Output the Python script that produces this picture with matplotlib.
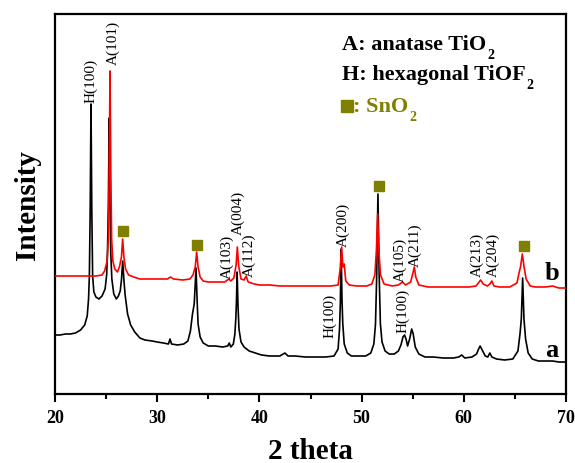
import matplotlib
matplotlib.use("Agg")
import matplotlib.pyplot as plt
from matplotlib.ticker import MultipleLocator

plt.rcParams['font.family'] = ['Liberation Serif', 'DejaVu Serif']

# ---- data: sample a (black) ----
two_theta_a = [20.0, 20.5, 21.0, 21.5, 22.0, 22.5, 22.9, 23.15, 23.28, 23.36, 23.44, 23.52, 23.60, 23.68,
               23.8, 24.0, 24.3, 24.6, 24.9, 25.06, 25.14, 25.22, 25.30, 25.38, 25.46, 25.56, 25.75,
               26.0, 26.2, 26.38, 26.50, 26.62, 26.74, 26.86, 27.1, 27.4, 27.8, 28.3, 28.8, 29.5, 30.0,
               30.6, 31.1, 31.25, 31.4, 32.0, 32.6, 33.0, 33.25, 33.45, 33.62, 33.72, 33.80, 33.90,
               34.0, 34.2, 34.5, 35.0, 35.7, 36.4, 36.9, 37.05, 37.2, 37.45, 37.6, 37.7, 37.76, 37.82,
               37.9, 38.0, 38.2, 38.5, 39.0, 39.6, 40.2, 41.0, 42.0, 42.5, 42.8, 43.5, 44.5, 45.5,
               46.5, 47.3, 47.7, 47.84, 47.92, 48.0, 48.08, 48.16, 48.3, 48.6, 49.0, 49.7, 50.4, 50.9,
               51.2, 51.36, 51.48, 51.6, 51.72, 51.84, 52.0, 52.3, 52.7, 53.2, 53.6, 53.85, 54.05,
               54.2, 54.35, 54.5, 54.7, 54.9, 55.05, 55.25, 55.6, 56.2, 57.0, 58.0, 59.0, 59.5, 59.8,
               60.1, 60.8, 61.25, 61.45, 61.6, 61.8, 62.1, 62.35, 62.55, 62.75, 63.2, 64.0, 64.8,
               65.3, 65.5, 65.63, 65.76, 65.89, 66.05, 66.3, 66.7, 67.3, 68.0, 68.7, 69.3, 70.0]
intensity_a = [59, 59, 60, 60, 61, 64, 69, 78, 95, 118, 183, 290, 183, 118,
               102, 97, 95, 98, 105, 120, 145, 190, 276, 190, 140, 115, 100,
               95, 98, 103, 114, 133, 114, 99, 80, 69, 62, 56, 54, 53, 52,
               51, 50, 55, 50, 49, 50, 53, 63, 80, 90, 110, 126, 95,
               70, 57, 51, 48, 48, 47, 48, 51, 47, 50, 60, 77, 95, 122,
               90, 65, 52, 47, 43, 41, 39, 38, 38, 41, 38, 38, 37, 37,
               37, 38, 45, 65, 91, 145, 95, 70, 50, 41, 38, 38, 38, 41,
               50, 70, 119, 200, 119, 70, 52, 43, 40, 40, 43, 49, 57,
               59, 55, 48, 55, 65, 60, 47, 40, 37, 37, 36, 36, 37, 39,
               36, 37, 40, 45, 48, 44, 38, 37, 41, 37, 35, 34, 35,
               43, 60, 75, 116, 75, 55, 41, 35, 33, 33, 33, 32, 32]

# ---- data: sample b (red) ----
two_theta_b = [20.0, 21.0, 22.0, 23.0, 24.0, 24.6, 24.85, 25.1, 25.22, 25.30, 25.38, 25.46, 25.54, 25.66,
               25.85, 26.1, 26.3, 26.5, 26.62, 26.74, 26.9, 27.2, 27.7, 28.3, 29.0, 30.0, 31.0, 31.3,
               31.6, 32.5, 33.2, 33.5, 33.72, 33.86, 34.0, 34.2, 34.5, 35.0, 35.9, 36.6, 37.0, 37.2,
               37.5, 37.72, 37.84, 37.96, 38.2, 38.5, 38.7, 38.9, 39.5, 40.0, 41.0, 42.0, 43.0, 44.0,
               45.0, 46.0, 47.0, 47.7, 47.9, 48.05, 48.17, 48.3, 48.45, 48.8, 49.5, 50.5, 51.0, 51.3,
               51.45, 51.57, 51.69, 51.85, 52.2, 53.0, 53.6, 54.0, 54.3, 54.8, 55.0, 55.16, 55.3, 55.6,
               56.5, 57.5, 58.5, 59.5, 60.5, 61.2, 61.5, 61.65, 61.9, 62.3, 62.55, 62.75, 62.95, 63.5,
               64.5, 65.2, 65.45, 65.55, 65.73, 65.9, 66.1, 66.5, 67.0, 68.0, 68.7, 69.3, 70.0]
intensity_b = [118, 118, 118, 118, 118, 119, 123, 133, 155, 222, 323, 222, 155, 133,
               125, 122, 127, 137, 155, 137, 125, 119, 117, 115, 115, 115, 115, 117,
               115, 114, 115, 119, 127, 142, 127, 117, 113, 112, 112, 112, 115, 113,
               116, 129, 147, 129, 115, 114, 118, 112, 110, 109, 109, 108, 108, 108,
               108, 108, 108, 109, 125, 147, 127, 130, 113, 109, 108, 108, 110, 119,
               144, 180, 144, 119, 110, 108, 109, 112, 109, 112, 120, 127, 117, 109,
               107, 107, 107, 107, 107, 108, 112, 114, 110, 108, 110, 113, 108, 107,
               107, 111, 123, 127, 140, 127, 115, 108, 107, 107, 108, 106, 106]

# ---- peak annotations ----
peak_labels = ['H(100)', 'A(101)', 'A(103)', 'A(004)', 'A(112)', 'A(200)', 'H(100)',
               'A(105)', 'A(211)', 'H(100)', 'A(213)', 'A(204)']
peak_label_x = [23.52, 25.68, 36.8, 37.92, 38.95, 48.18, 46.9, 53.76, 55.22, 54.05, 61.29, 62.86]
peak_label_y = [292, 330, 116, 160, 118, 148, 57, 113, 128, 62, 118, 118]

# ---- SnO2 markers ----
sno2_x = [26.65, 33.89, 51.7, 65.89]
sno2_y = [163, 149, 208, 148]

# ---- legend text ----
legend_main = ['A: anatase TiO', 'H: hexagonal TiOF', ': SnO']
legend_sub = ['2', '2', '2']

xticks = [20, 30, 40, 50, 60, 70]
olive = '#808000'

fig = plt.figure(figsize=(5.75, 4.64), dpi=100)
ax = fig.add_axes([0.0957, 0.1487, 0.8886, 0.819])

ax.plot(two_theta_a, intensity_a, color='black', lw=1.2, zorder=2)
ax.plot(two_theta_b, intensity_b, color='red', lw=1.2, zorder=3)

for lab, x, y in zip(peak_labels, peak_label_x, peak_label_y):
    ax.text(x, y, lab, rotation=90, ha='center', va='bottom', fontsize=11, zorder=4)

ax.plot(sno2_x, sno2_y, ls='none', marker='s', ms=7.5, color=olive, zorder=5)

ax.text(68.63, 115, 'b', fontsize=19, fontweight='bold', ha='center', va='baseline')
ax.text(68.63, 38, 'a', fontsize=19, fontweight='bold', ha='center', va='baseline')

# legend-like text block, subscripts placed after the main text
leg_x = [0.5616, 0.5616, 0.583]
leg_y = [0.908, 0.829, 0.745]
leg_col = ['black', 'black', olive]
fig.canvas.draw()
renderer = fig.canvas.get_renderer()
for main, sub, x, y, c in zip(legend_main, legend_sub, leg_x, leg_y, leg_col):
    t = ax.text(x, y, main, transform=ax.transAxes, fontsize=16, fontweight='bold',
                ha='left', va='baseline', color=c)
    bb = t.get_window_extent(renderer=renderer)
    bx, by = ax.transAxes.transform((x, y))
    fig.text((bb.x1 + 1) / fig.bbox.width, (by + 1) / fig.bbox.height, sub,
             fontsize=10, fontweight='bold', ha='left', va='top', color=c)
ax.plot([0.5714], [0.757], transform=ax.transAxes, marker='s', ms=8, color=olive, ls='none')

ax.set_xlim(20, 70)
ax.set_ylim(0, 380)
ax.set_xticks(xticks)
ax.set_xticklabels([str(t) for t in xticks], fontsize=13, fontweight='bold')
ax.xaxis.set_minor_locator(MultipleLocator(5))
ax.tick_params(axis='x', which='major', direction='out', length=6, width=1.5, pad=5)
ax.tick_params(axis='x', which='minor', direction='out', length=3.5, width=1.5)
ax.set_yticks([])
for s in ax.spines.values():
    s.set_linewidth(1.6)

ax.set_xlabel('2 theta', fontsize=21, fontweight='bold', labelpad=8)
ax.set_ylabel('Intensity', fontsize=21, fontweight='bold', labelpad=10)

fig.savefig('out.png', dpi=100)
